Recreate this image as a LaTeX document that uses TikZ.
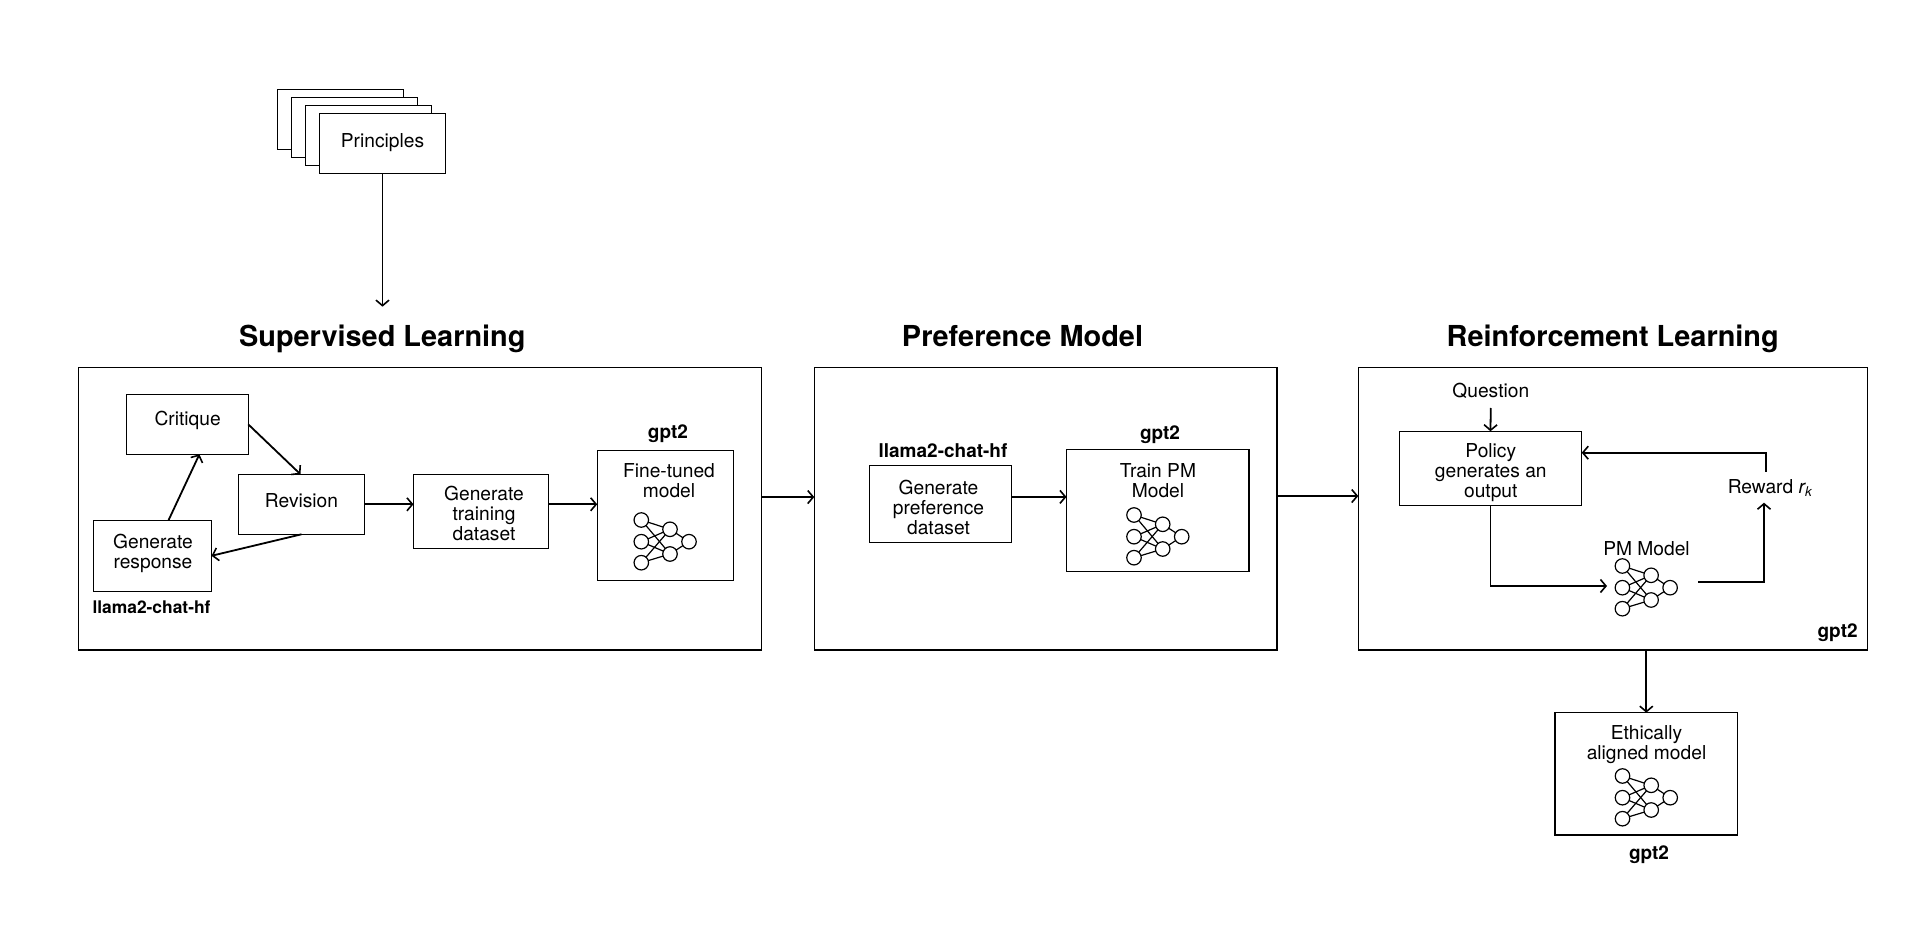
\documentclass[tikz,border=0pt]{standalone}
\usepackage{fontspec}
\setmainfont{TeX Gyre Heros}
\usetikzlibrary{arrows.meta,calc}
\newcommand{\bx}[6][]{%
  \pgfmathsetmacro{\bxcx}{(#3+#5)/2}\pgfmathsetmacro{\bxcy}{(#4+#6)/2}%
  \pgfmathsetmacro{\bxw}{#5-#3}\pgfmathsetmacro{\bxh}{#6-#4}%
  \node[boxnode,minimum width=\bxw pt,minimum height=\bxh pt,#1] (#2) at (\bxcx,\bxcy) {};}
\newcommand{\nnet}[3]{%
  \begin{scope}[shift={(#2,#3)}]
  \node[neuron] (#1a) at (0,0) {};
  \node[neuron] (#1b) at (0,21.7) {};
  \node[neuron] (#1c) at (0,42.7) {};
  \node[neuron] (#1d) at (28.7,9.3) {};
  \node[neuron] (#1e) at (28.7,34) {};
  \node[neuron] (#1f) at (47.7,21.7) {};
  \foreach \s in {a,b,c}{\foreach \t in {d,e}{\draw[nnline] (#1\s) -- (#1\t);}}
  \draw[nnline] (#1d) -- (#1f);
  \draw[nnline] (#1e) -- (#1f);
  \end{scope}}
\tikzset{
  boxnode/.style={draw=black,line width=1.1pt,fill=white,inner sep=0pt,outer sep=0pt},
  neuron/.style={circle,draw=black,line width=1.2pt,minimum size=14.5pt,inner sep=0pt,outer sep=0pt},
  nnline/.style={line width=1.2pt},
  txt/.style={font=\fontsize{19.2}{20}\selectfont,align=center,inner sep=0pt,text=black},
  boldtxt/.style={font=\fontsize{19}{20}\selectfont\bfseries,align=center,inner sep=0pt},
  llamatxt/.style={font=\fontsize{17.4}{20}\selectfont\bfseries,align=center,inner sep=0pt},
  titletxt/.style={font=\fontsize{28.9}{32}\selectfont\bfseries,inner sep=0pt,anchor=base},
  conn/.style={line width=1.8pt,-{Straight Barb[length=5.5pt,width=13pt,line width=1.6pt]},line join=miter}
}
\begin{document}
\begin{tikzpicture}[x=1pt,y=-1pt]
\useasboundingbox[fill=white] (0,0) rectangle (1920,925);
% Principles stack
\bx{p1}{277.3}{89.3}{403.7}{149.3}
\bx{p2}{291.3}{97.3}{417.7}{157.3}
\bx{p3}{305.3}{105.3}{431.7}{165.3}
\bx{p4}{319.3}{113.3}{445.7}{173.3}
\node[txt] (ptxt) at (382.5,142.5) {Principles};
\coordinate (slin) at (382.5,306.7);
\draw[conn] (p4.south) -- (slin);
% Titles
\node[titletxt] (t1) at (382.3,346) {Supervised Learning};
\node[titletxt] (t2) at (1022.5,346) {Preference Model};
\node[titletxt] (t3) at (1612.7,346) {Reinforcement Learning};
% Panels
\bx{sl}{78.4}{367.5}{761.6}{650}
\bx{pm}{814.3}{367.5}{1277}{650}
\bx{rl}{1358.3}{367.5}{1867.2}{650}
% Supervised
\bx{crit}{126.6}{394.3}{248.2}{454.3}
\bx{rev}{238.6}{474.3}{364.4}{534.3}
\bx{train}{413.5}{474.3}{548.5}{548.3}
\bx{fine}{597.2}{450.3}{733.5}{580.3}
\bx{resp}{93.5}{520.3}{211.5}{591.3}
\node[txt] (critt) at (187.7,420.2) {Critique};
\node[txt] (revt) at (301.5,501) {Revision};
\node[txt] (traint) at (484,513.5) {Generate\\training\\dataset};
\node[txt] (finet) at (669,481) {Fine-tuned\\model};
\node[txt] (respt) at (153,553) {Generate\\response};
\node[llamatxt] (llama1) at (151.5,607) {llama2-chat-hf};
\node[boldtxt] (gpt1) at (668,434) {gpt2};
\nnet{na}{641.3}{520}
\draw[conn] (crit.east) -- ([xshift=-1pt]rev.north);
\draw[conn] (rev.south) -- (resp.east);
\draw[conn] ([xshift=16pt]resp.north) -- ([xshift=12pt]crit.south);
\draw[conn] (rev.east) -- (rev.east -| train.west);
\draw[conn] ([yshift=7pt]train.east) -- ([yshift=7pt]train.east -| fine.west);
% Preference
\bx{gp}{869.4}{465.3}{1011.4}{542.5}
\bx{tp}{1066.5}{449.4}{1249}{571.8}
\node[boldtxt] (llama2) at (943,451) {llama2-chat-hf};
\node[boldtxt] (gpt3) at (1160,434.5) {gpt2};
\node[txt] (gpt) at (938.5,507.3) {Generate\\preference\\dataset};
\node[txt] (tpt) at (1158,480.5) {Train PM\\Model};
\nnet{nb}{1134}{515}
\draw[conn] ([yshift=7pt]gp.east) -- ([yshift=7pt]gp.east -| tp.west);
% between panels
\draw[conn] ([yshift=11.7pt]sl.east) -- ([yshift=11.7pt]sl.east -| pm.west);
\draw[conn] ([yshift=12.7pt]pm.east) -- ([yshift=12.7pt]pm.east -| rl.west);
% Reinforcement
\bx{pol}{1399.2}{431.3}{1581.7}{505.3}
\node[txt] (q) at (1490.8,390.5) {Question};
\node[txt] (polt) at (1490.8,472.2) {Policy\\generates an\\output};
\node[txt] (pmt) at (1646.5,548.5) {PM Model};
\node[txt] (rew) at (1770,488) {Reward {\itshape r}\textsubscript{\itshape k}};
\node[boldtxt] (gpt4) at (1837.6,632.5) {gpt2};
\nnet{nc}{1622.4}{566}
\coordinate (qs) at (1490.8,408);
\coordinate (pmin) at (1607,586);
\coordinate (pmout) at (1698,581.7);
\coordinate (rewin) at (1764,502.7);
\coordinate (rewout) at (1766,471.7);
\coordinate (polfb) at (1581.7,452.7);
\draw[conn] (qs) -- (pol.north);
\draw[conn] (pol.south) |- (pmin);
\draw[conn] (pmout) -| (rewin);
\draw[conn] (rewout) |- (polfb);
% Output
\bx{eth}{1555}{712.7}{1737.6}{835}
\node[txt] (etht) at (1646.5,745) {Ethically\\aligned model};
\nnet{nd}{1622.5}{776}
\node[boldtxt] (gpt5) at (1649,855) {gpt2};
\draw[conn] (rl.south -| eth.north) -- (eth.north);
\end{tikzpicture}
\end{document}
